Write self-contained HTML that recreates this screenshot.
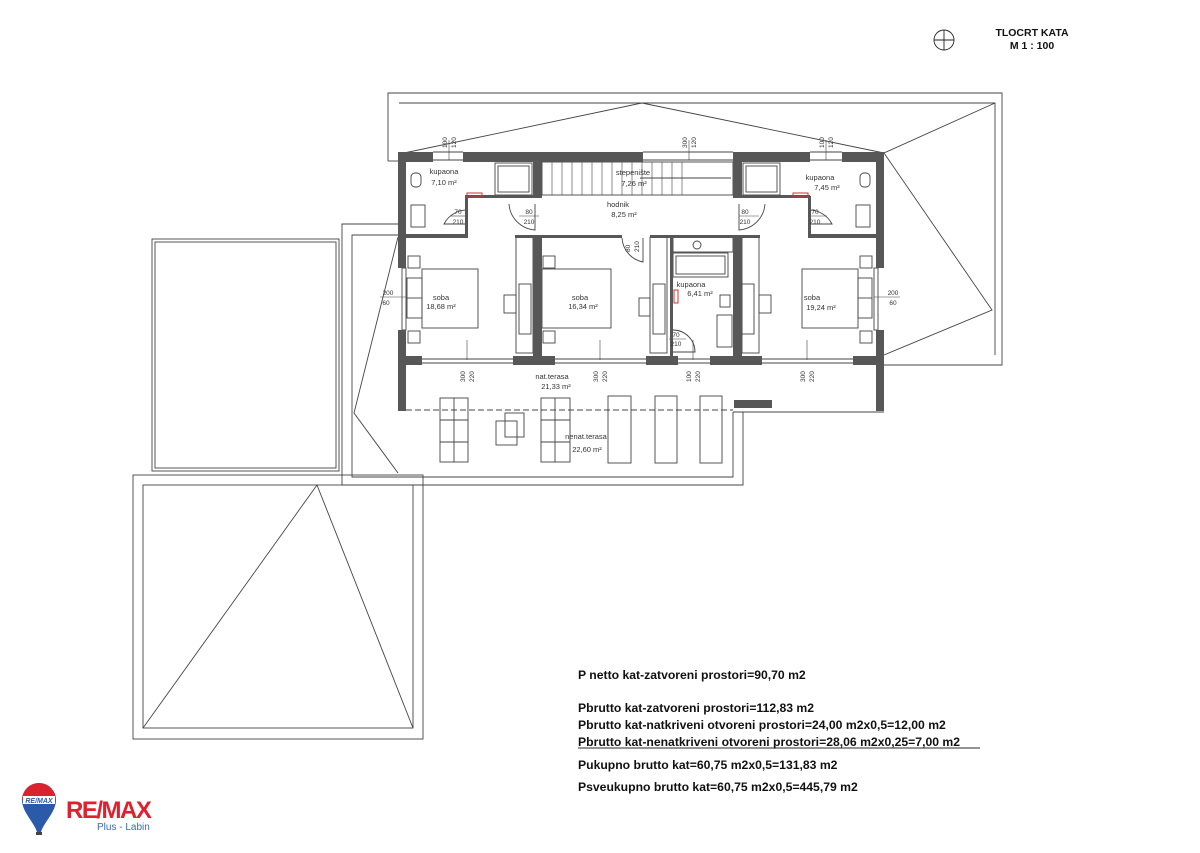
<!DOCTYPE html>
<html><head><meta charset="utf-8"><style>
html,body{margin:0;padding:0;background:#fff;}
svg{display:block;}
.t{font-family:"Liberation Sans",sans-serif;fill:#333;}
.s{font-size:7.5px;}
.d{font-size:6.5px;}
.b{font-family:"Liberation Sans",sans-serif;font-weight:bold;font-size:12.2px;fill:#111;}
</style></head><body>
<svg width="1200" height="853" viewBox="0 0 1200 853" xmlns="http://www.w3.org/2000/svg">
<g fill="none" stroke="#444" stroke-width="0.9">
<polyline points="388,161 388,93 1002,93 1002,365 884,365"/>
<line x1="388" y1="161" x2="398" y2="161"/>
<polyline points="399,103 995,103 995,355"/>
<polyline points="404,153 642,103 884,153"/>
<polyline points="995,103 884,153 992,310 884,355"/>
<polyline points="398,224 342,224 342,485 743,485 743,412"/>
<polyline points="398,235 352,235 352,477 733,477 733,412"/>
<polyline points="398,237 354,413 398,473"/>
<line x1="733" y1="412" x2="884" y2="412"/>
<rect x="152" y="239" width="187" height="232"/>
<rect x="155" y="242" width="181" height="226"/>
<rect x="133" y="475" width="290" height="264"/>
<rect x="143" y="485" width="270" height="243"/>
<polyline points="143,728 317,485 413,728"/>
<line x1="406" y1="410" x2="733" y2="410" stroke-dasharray="6,3"/>
<rect x="440" y="398" width="28" height="64"/><line x1="454" y1="398" x2="454" y2="462"/><line x1="440" y1="420" x2="468" y2="420"/><line x1="440" y1="442" x2="468" y2="442"/>
<rect x="541" y="398" width="29" height="64"/><line x1="555" y1="398" x2="555" y2="462"/><line x1="541" y1="420" x2="570" y2="420"/><line x1="541" y1="442" x2="570" y2="442"/>
<rect x="608" y="396" width="23" height="67"/><rect x="655" y="396" width="22" height="67"/><rect x="700" y="396" width="22" height="67"/>
<rect x="496" y="421" width="21" height="24"/><rect x="505" y="413" width="19" height="24"/>
<line x1="406" y1="359" x2="874" y2="359"/><line x1="406" y1="363" x2="874" y2="363"/>
<line x1="433" y1="152" x2="463" y2="152"/><line x1="433" y1="160" x2="463" y2="160"/>
<line x1="643" y1="152" x2="733" y2="152"/><line x1="643" y1="160" x2="733" y2="160"/>
<line x1="810" y1="152" x2="842" y2="152"/><line x1="810" y1="160" x2="842" y2="160"/>
<rect x="402" y="268" width="4" height="62"/><rect x="874" y="268" width="4" height="62"/>
<rect x="542" y="162" width="191" height="33"/>
<g stroke-width="0.6">
<path d="M552 162V195M562 162V195M572 162V195M582 162V195M592 162V195M602 162V195M612 162V195M622 162V195M632 162V195M642 162V195M652 162V195M662 162V195M672 162V195M682 162V195"/>
</g>
<line x1="640" y1="178" x2="731" y2="178"/>
<rect x="495" y="163" width="37" height="32"/><rect x="498" y="166" width="31" height="26"/>
<rect x="743" y="163" width="37" height="32"/><rect x="746" y="166" width="31" height="26"/>
<rect x="422" y="269" width="56" height="59"/><rect x="407" y="278" width="15" height="40"/><line x1="407" y1="298" x2="422" y2="298"/>
<rect x="542" y="269" width="69" height="59"/>
<rect x="802" y="269" width="56" height="59"/><rect x="858" y="278" width="14" height="40"/><line x1="858" y1="298" x2="872" y2="298"/>
<rect x="408" y="256" width="12" height="12"/><rect x="408" y="331" width="12" height="12"/>
<rect x="543" y="256" width="12" height="12"/><rect x="543" y="331" width="12" height="12"/>
<rect x="860" y="256" width="12" height="12"/><rect x="860" y="331" width="12" height="12"/>
<rect x="516" y="237" width="17" height="116"/><rect x="519" y="284" width="12" height="50"/>
<rect x="504" y="295" width="12" height="18"/>
<rect x="650" y="237" width="17" height="116"/><rect x="653" y="284" width="12" height="50"/>
<rect x="639" y="298" width="11" height="18"/>
<rect x="742" y="237" width="17" height="116"/><rect x="742" y="284" width="12" height="50"/>
<rect x="759" y="295" width="12" height="18"/>
<rect x="673" y="237" width="60" height="15"/><circle cx="697" cy="245" r="4"/>
<rect x="673" y="253" width="55" height="24"/><rect x="676" y="256" width="49" height="18"/>
<rect x="717" y="315" width="15" height="32"/><rect x="720" y="295" width="10" height="12"/>
<rect x="411" y="173" width="10" height="14" rx="4"/><rect x="411" y="205" width="14" height="22"/>
<rect x="860" y="173" width="10" height="14" rx="4"/><rect x="856" y="205" width="14" height="22"/>
<path d="M468 210 A26 26 0 0 0 444 224 L468 224"/>
<path d="M509 204 A28 28 0 0 0 535 230 L535 204"/>
<path d="M622 238 A26 26 0 0 0 643 262 L643 238"/>
<path d="M765 204 A28 28 0 0 1 739 230 L739 204"/>
<path d="M808 210 A26 26 0 0 1 832 224 L808 224"/>
<path d="M673 330 A22 22 0 0 1 695 352 L673 352"/>
<g stroke-width="0.6">
<line x1="467" y1="340" x2="467" y2="360"/><line x1="600" y1="340" x2="600" y2="360"/><line x1="807" y1="340" x2="807" y2="360"/><line x1="693" y1="340" x2="693" y2="360"/>
<line x1="449" y1="140" x2="449" y2="160"/><line x1="826" y1="140" x2="826" y2="160"/><line x1="689" y1="140" x2="689" y2="160"/>
<line x1="380" y1="297" x2="406" y2="297"/><line x1="874" y1="297" x2="900" y2="297"/>
<line x1="450" y1="216" x2="466" y2="216"/><line x1="519" y1="216" x2="539" y2="216"/><line x1="739" y1="216" x2="759" y2="216"/><line x1="810" y1="216" x2="827" y2="216"/><line x1="669" y1="339" x2="686" y2="339"/>
</g>
<circle cx="944" cy="40" r="10" stroke="#222"/>
<line x1="934" y1="40" x2="954" y2="40" stroke="#222"/><line x1="944" y1="30" x2="944" y2="50" stroke="#222"/>
<line x1="578" y1="748" x2="980" y2="748" stroke="#555" stroke-width="1.2"/>
</g>
<g fill="#575757">
<rect x="398" y="152" width="35" height="10"/><rect x="463" y="152" width="180" height="10"/><rect x="733" y="152" width="77" height="10"/><rect x="842" y="152" width="42" height="10"/>
<rect x="398" y="152" width="8" height="116"/><rect x="398" y="330" width="8" height="81"/>
<rect x="876" y="152" width="8" height="116"/><rect x="876" y="330" width="8" height="81"/>
<rect x="406" y="356" width="16" height="9"/><rect x="513" y="356" width="42" height="9"/><rect x="646" y="356" width="32" height="9"/><rect x="710" y="356" width="52" height="9"/><rect x="853" y="356" width="23" height="9"/>
<rect x="406" y="234" width="62" height="4"/><rect x="465" y="196" width="3" height="42"/><rect x="465" y="195" width="77" height="3"/>
<rect x="533" y="152" width="9" height="46"/><rect x="533" y="235" width="9" height="121"/>
<rect x="515" y="235" width="107" height="3"/><rect x="650" y="235" width="110" height="3"/>
<rect x="733" y="152" width="9" height="46"/><rect x="733" y="235" width="9" height="121"/>
<rect x="670" y="235" width="3" height="121"/>
<rect x="742" y="195" width="68" height="3"/><rect x="808" y="196" width="3" height="42"/><rect x="808" y="234" width="68" height="4"/>
<rect x="734" y="400" width="38" height="8"/>
</g>
<g fill="none" stroke="#c33" stroke-width="1"><rect x="467" y="193" width="15" height="4"/><rect x="793" y="193" width="15" height="4"/><rect x="674" y="290" width="4" height="13"/></g>
<g class="t s" text-anchor="middle">
<text x="444" y="174">kupaona</text><text x="444" y="185">7,10 m²</text>
<text x="633" y="175">stepenište</text><text x="634" y="186">7,26 m²</text>
<text x="618" y="207">hodnik</text><text x="624" y="217">8,25 m²</text>
<text x="820" y="180">kupaona</text><text x="827" y="190">7,45 m²</text>
<text x="441" y="300">soba</text><text x="441" y="309">18,68 m²</text>
<text x="580" y="300">soba</text><text x="583" y="309">16,34 m²</text>
<text x="691" y="287">kupaona</text><text x="700" y="296">6,41 m²</text>
<text x="812" y="300">soba</text><text x="821" y="310">19,24 m²</text>
<text x="552" y="379">nat.terasa</text><text x="556" y="389">21,33 m²</text>
<text x="586" y="439">nenat.terasa</text><text x="587" y="452">22,60 m²</text>
</g>
<g class="t d" text-anchor="middle">
<text x="458" y="214">70</text><text x="458" y="224">210</text>
<text x="529" y="214">80</text><text x="529" y="224">210</text>
<text x="745" y="214">80</text><text x="745" y="224">210</text>
<text x="815" y="214">70</text><text x="815" y="224">210</text>
<text x="676" y="337">70</text><text x="676" y="346">210</text>
<text x="388" y="295">200</text><text x="386" y="305">60</text>
<text x="893" y="295">200</text><text x="893" y="305">60</text>
</g>
<g class="t d">
<text transform="translate(465,382) rotate(-90)">300</text><text transform="translate(474,382) rotate(-90)">220</text>
<text transform="translate(598,382) rotate(-90)">300</text><text transform="translate(607,382) rotate(-90)">220</text>
<text transform="translate(691,382) rotate(-90)">100</text><text transform="translate(700,382) rotate(-90)">220</text>
<text transform="translate(805,382) rotate(-90)">300</text><text transform="translate(814,382) rotate(-90)">220</text>
<text transform="translate(447,148) rotate(-90)">100</text><text transform="translate(456,148) rotate(-90)">120</text>
<text transform="translate(687,148) rotate(-90)">300</text><text transform="translate(696,148) rotate(-90)">120</text>
<text transform="translate(824,148) rotate(-90)">100</text><text transform="translate(833,148) rotate(-90)">120</text>
<text transform="translate(630,252) rotate(-90)">80</text><text transform="translate(639,252) rotate(-90)">210</text>
</g>
<g class="b" text-anchor="middle" style="font-size:10.5px">
<text x="1032" y="36">TLOCRT KATA</text><text x="1032" y="49">M 1 : 100</text>
</g>
<g class="b">
<text x="578" y="679">P netto kat-zatvoreni prostori=90,70 m2</text>
<text x="578" y="712">Pbrutto kat-zatvoreni prostori=112,83 m2</text>
<text x="578" y="729">Pbrutto kat-natkriveni otvoreni prostori=24,00 m2x0,5=12,00 m2</text>
<text x="578" y="746">Pbrutto kat-nenatkriveni otvoreni prostori=28,06 m2x0,25=7,00 m2</text>
<text x="578" y="769">Pukupno brutto kat=60,75 m2x0,5=131,83 m2</text>
<text x="578" y="791">Psveukupno brutto kat=60,75 m2x0,5=445,79 m2</text>
</g>
<g>
<path d="M22 800 A17 17 0 0 1 56 800 C56 812 44 822 41 832 L37 832 C34 822 22 812 22 800 Z" fill="#2a5aa8"/>
<path d="M22 800 A17 17 0 0 1 56 800 L22 800 Z" fill="#d9232e"/>
<rect x="23" y="796" width="32" height="8" fill="#fff"/>
<text x="39" y="803" text-anchor="middle" style="font-family:'Liberation Sans',sans-serif;font-size:7px;font-weight:bold;font-style:italic;fill:#2a5aa8">RE/MAX</text>
<rect x="36" y="832" width="6" height="3" fill="#444"/>
<text x="66" y="818" style="font-family:'Liberation Sans',sans-serif;font-size:24px;font-weight:bold;fill:#e0202e;letter-spacing:-1.5px">RE/MAX</text>
<text x="97" y="830" style="font-family:'Liberation Sans',sans-serif;font-size:10px;fill:#3a6ab0">Plus - Labin</text>
</g>
</svg>
</body></html>
